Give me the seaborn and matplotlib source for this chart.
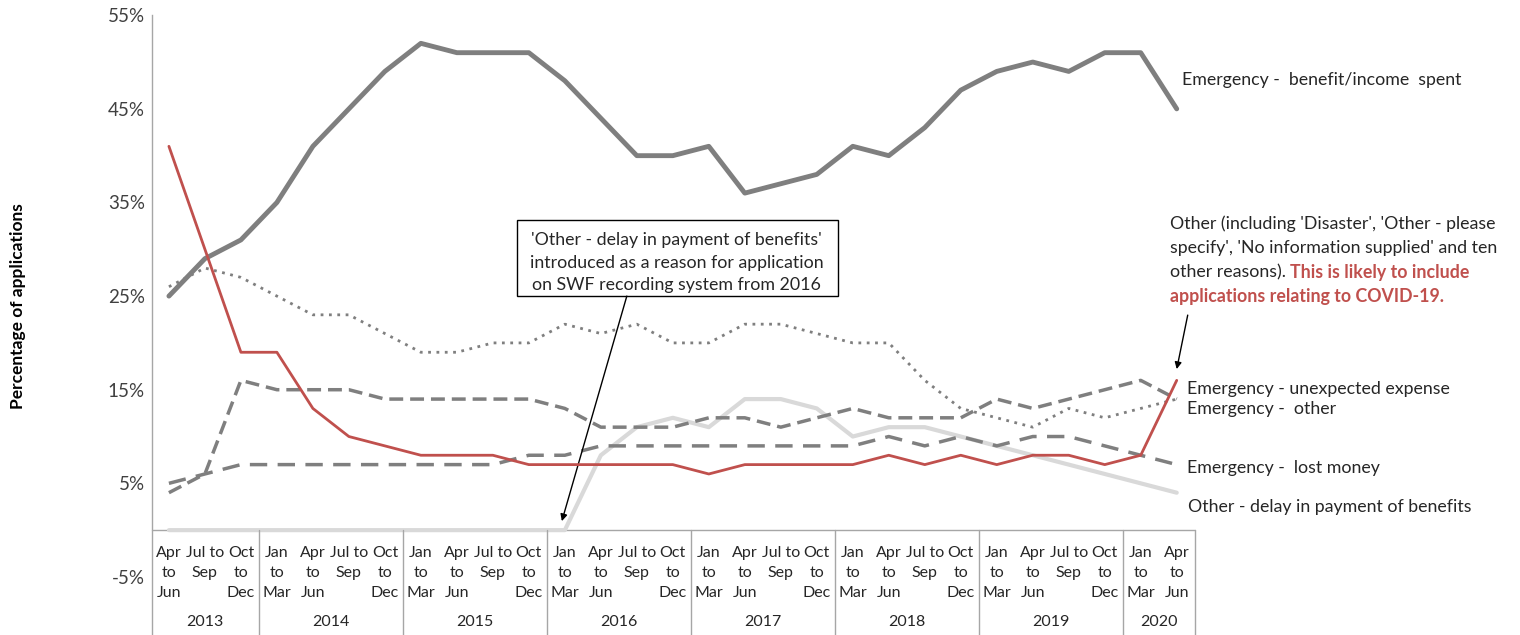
import numpy as np
import pandas as pd
import matplotlib
matplotlib.use("Agg")
import matplotlib.pyplot as plt
from matplotlib.patches import Rectangle
import seaborn as sns

# quarter labels, Apr-Jun 2013 .. Apr-Jun 2020
quarter_labels = ["Apr\nto\nJun", "Jul to\nSep", "Oct\nto\nDec"] \
    + ["Jan\nto\nMar", "Apr\nto\nJun", "Jul to\nSep", "Oct\nto\nDec"] * 6 \
    + ["Jan\nto\nMar", "Apr\nto\nJun"]
years = ["2013", "2014", "2015", "2016", "2017", "2018", "2019", "2020"]
quarters_per_year = [3, 4, 4, 4, 4, 4, 4, 2]

benefit_spent = [25, 29, 31, 35, 41, 45, 49, 52, 51, 51, 51, 48, 44, 40, 40, 41, 36, 37, 38,
                 41, 40, 43, 47, 49, 50, 49, 51, 51, 45]
other_reasons = [41, 30, 19, 19, 13, 10, 9, 8, 8, 8, 7, 7, 7, 7, 7, 6, 7, 7, 7,
                 7, 8, 7, 8, 7, 8, 8, 7, 8, 16]
emergency_other = [26, 28, 27, 25, 23, 23, 21, 19, 19, 20, 20, 22, 21, 22, 20, 20, 22, 22, 21,
                   20, 20, 16, 13, 12, 11, 13, 12, 13, 14]
unexpected_expense = [4, 6, 16, 15, 15, 15, 14, 14, 14, 14, 14, 13, 11, 11, 11, 12, 12, 11, 12,
                      13, 12, 12, 12, 14, 13, 14, 15, 16, 14]
lost_money = [5, 6, 7, 7, 7, 7, 7, 7, 7, 7, 8, 8, 9, 9, 9, 9, 9, 9, 9,
              9, 10, 9, 10, 9, 10, 10, 9, 8, 7]
delay_benefits = [0, 0, 0, 0, 0, 0, 0, 0, 0, 0, 0, 0, 8, 11, 12, 11, 14, 14, 13,
                  10, 11, 11, 10, 9, 8, 7, 6, 5, 4]

yticks = [-5, 5, 15, 25, 35, 45, 55]

sns.set_theme(style="white")
plt.rcParams['font.family'] = ['Lato', 'DejaVu Sans']

GREY = "#7f7f7f"
LIGHT = "#d9d9d9"
RED = "#c0504d"
AXC = "#a6a6a6"
TXT = "#262626"
FS = 12.8


def px(xp, yp):
    # pixel position on the 1520x635 canvas -> data coords
    return (xp - 169) / 36.0, (530 - yp) / 9.36


fig = plt.figure(figsize=(15.2, 6.35), dpi=100)
ax = fig.add_axes([0.1, 0.0, 0.686, 0.976])

x = np.arange(len(quarter_labels))
df = pd.DataFrame({'q': x, 'benefit': benefit_spent, 'other': other_reasons,
                   'em_other': emergency_other, 'unexpected': unexpected_expense,
                   'lost': lost_money, 'delay': delay_benefits})

sns.lineplot(data=df, x='q', y='delay', ax=ax, color=LIGHT, lw=3, zorder=2)
sns.lineplot(data=df, x='q', y='em_other', ax=ax, color=GREY, lw=2, linestyle=(0, (1, 2)), zorder=3)
sns.lineplot(data=df, x='q', y='unexpected', ax=ax, color=GREY, lw=2.5, linestyle=(0, (4, 2)), zorder=3)
sns.lineplot(data=df, x='q', y='lost', ax=ax, color=GREY, lw=2.5, linestyle=(0, (5, 3)), zorder=3)
sns.lineplot(data=df, x='q', y='benefit', ax=ax, color=GREY, lw=3.5, zorder=4)
sns.lineplot(data=df, x='q', y='other', ax=ax, color=RED, lw=2, zorder=5)

ax.set_xlim(-0.47, 28.5)
ax.set_ylim(-11.2, 55)
ax.set_yticks(yticks)
ax.set_yticklabels([f"{v}%" for v in yticks], fontsize=13.5, color="#404040")
ax.tick_params(axis='y', length=0, pad=5)
ax.set_xticks([])
ax.set_xlabel("")
ax.set_ylabel("")
for s in ['top', 'right', 'bottom']:
    ax.spines[s].set_visible(False)
ax.spines['left'].set_color(AXC)
ax.spines['left'].set_linewidth(1)

# category axis table
ax.plot([-0.47, 28.5], [0, 0], color=AXC, lw=1, zorder=1, clip_on=False)
bounds = np.concatenate([[-0.5], np.cumsum(quarters_per_year) - 0.5])
for b in bounds[1:]:
    ax.plot([b, b], [0, -11.2], color=AXC, lw=1, clip_on=False)
for i, lab in enumerate(quarter_labels):
    for j, part in enumerate(lab.split("\n")):
        ax.text(i, px(0, 553 + 20 * j)[1], part, ha='center', va='center',
                fontsize=11.5, color=TXT)
for k, yr in enumerate(years):
    ax.text((bounds[k] + bounds[k + 1]) / 2, px(0, 622)[1], yr, ha='center', va='center',
            fontsize=11.5, color=TXT)

# series labels
ax.text(*px(1182, 80), "Emergency -  benefit/income  spent", fontsize=FS, color=TXT, va='center')
ax.text(*px(1187, 389), "Emergency - unexpected expense", fontsize=FS, color=TXT, va='center')
ax.text(*px(1187, 409), "Emergency -  other", fontsize=FS, color=TXT, va='center')
ax.text(*px(1187, 468), "Emergency -  lost money", fontsize=FS, color=TXT, va='center')
ax.text(*px(1188, 507), "Other - delay in payment of benefits", fontsize=FS, color=TXT, va='center')

# annotation box
box_lines = ["'Other - delay in payment of benefits'",
             "introduced as a reason for application",
             "on SWF recording system from 2016"]
for j, line in enumerate(box_lines):
    ax.text(*px(677, 240 + 22.5 * j), line, ha='center', va='center', fontsize=12.8, color=TXT)
x0, y0 = px(517, 296)
x1, y1 = px(838, 220)
ax.add_patch(Rectangle((x0, y0), x1 - x0, y1 - y0, fill=False, ec='black', lw=1, zorder=6,
                       clip_on=False))
ax.annotate("", xy=px(562, 521), xytext=px(627, 296),
            arrowprops=dict(arrowstyle='-|>', color='black', lw=1, mutation_scale=10,
                            shrinkA=0, shrinkB=0))

# red annotation
ax.text(*px(1170, 224), "Other (including 'Disaster', 'Other - please", ha='left', va='center',
        fontsize=FS, color=TXT)
ax.text(*px(1170, 248), "specify', 'No information supplied' and ten", ha='left', va='center',
        fontsize=FS, color=TXT)
t2 = ax.text(*px(1170, 272), "other reasons). ", ha='left', va='center', fontsize=FS, color=TXT)
ax.annotate("This is likely to include", xy=(1, 0.5), xycoords=t2, ha='left', va='center',
            fontsize=FS, color=RED, fontweight='bold')
ax.text(*px(1170, 296), "applications relating to COVID-19.", ha='left', va='center', fontsize=FS,
        color=RED, fontweight='bold')
ax.annotate("", xy=px(1177, 369), xytext=px(1188, 315),
            arrowprops=dict(arrowstyle='-|>', color='black', lw=1, mutation_scale=10,
                            shrinkA=0, shrinkB=0))

fig.text(0.012, 0.518, "Percentage of applications", rotation=90, ha='center', va='center',
         fontsize=12.5, fontweight='bold', color='black')

fig.savefig("out.png", dpi=100)
